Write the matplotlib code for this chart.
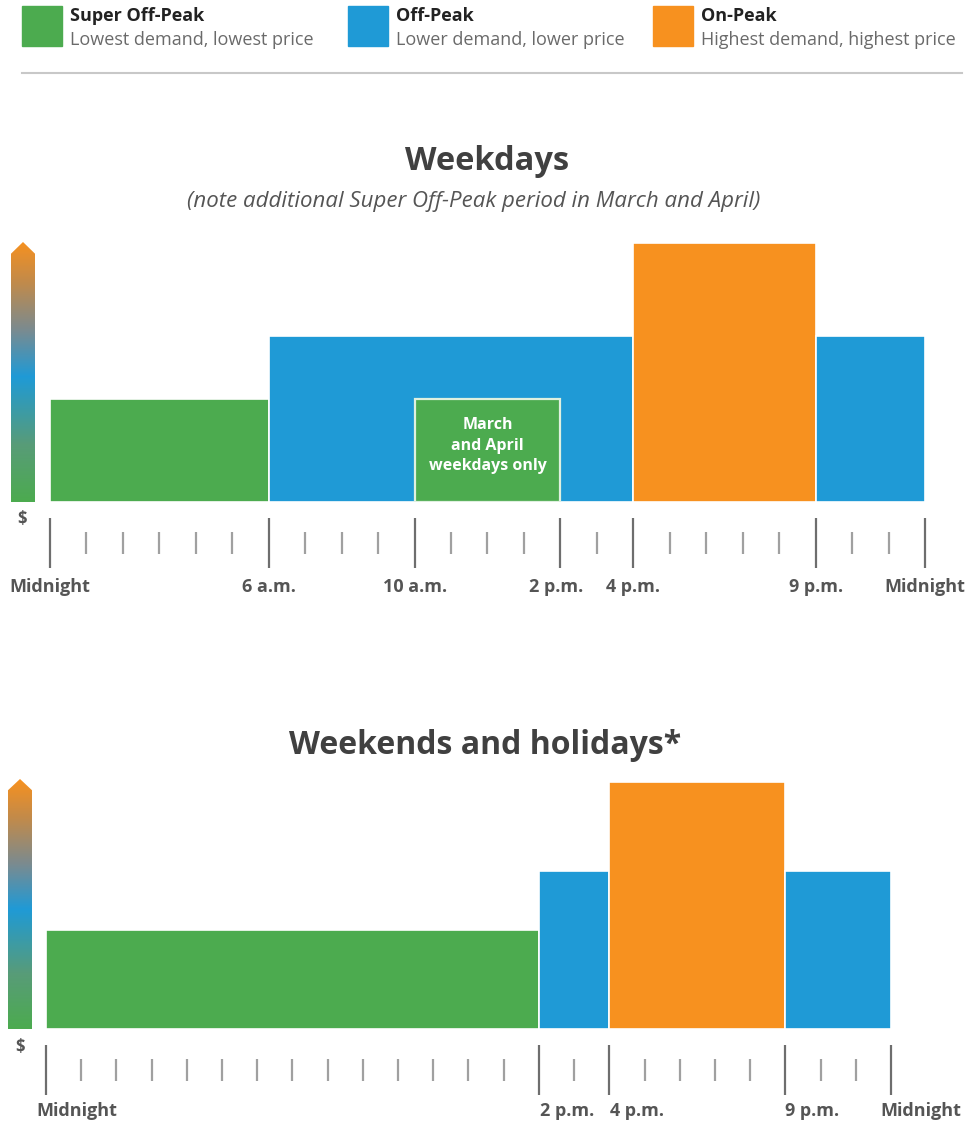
import matplotlib
matplotlib.use("Agg")
import matplotlib.pyplot as plt
import numpy as np
from matplotlib.colors import LinearSegmentedColormap
from matplotlib.patches import Polygon
from matplotlib.lines import Line2D
from matplotlib.patches import Rectangle

plt.rcParams['font.family'] = ['Open Sans', 'DejaVu Sans']

# ---- data -------------------------------------------------------------
period_names = ["Super Off-Peak", "Off-Peak", "On-Peak"]
period_desc = ["Lowest demand, lowest price", "Lower demand, lower price",
               "Highest demand, highest price"]
period_level = {"Super Off-Peak": 1.0, "Off-Peak": 1.6, "On-Peak": 2.5}

weekday_start = [0, 6, 16, 21]
weekday_end = [6, 16, 21, 24]
weekday_period = ["Super Off-Peak", "Off-Peak", "On-Peak", "Off-Peak"]

spring_start = [10]
spring_end = [14]
spring_period = ["Super Off-Peak"]
spring_note = "March\nand April\nweekdays only"

weekend_start = [0, 14, 16, 21]
weekend_end = [14, 16, 21, 24]
weekend_period = ["Super Off-Peak", "Off-Peak", "On-Peak", "Off-Peak"]

weekday_tick_hours = [0, 6, 10, 14, 16, 21, 24]
weekday_tick_labels = ["Midnight", "6 a.m.", "10 a.m.", "2 p.m.", "4 p.m.", "9 p.m.", "Midnight"]
weekend_tick_hours = [0, 14, 16, 21, 24]
weekend_tick_labels = ["Midnight", "2 p.m.", "4 p.m.", "9 p.m.", "Midnight"]

# ---- style ------------------------------------------------------------
COLORS = {"Super Off-Peak": "#4CAB4F", "Off-Peak": "#1F9AD6", "On-Peak": "#F7911F"}
TEXT = "#404040"
SUB = "#6a6a6a"

W, H = 967, 1124
fig = plt.figure(figsize=(W / 100, H / 100), dpi=100)
fig.patch.set_facecolor("white")


def fx(px):
    return px / W


def fy(py):
    return 1 - py / H


def box(x0, y0, x1, y1):
    """figure rect from pixel box (top-left origin)"""
    return [fx(x0), fy(y1), fx(x1) - fx(x0), fy(y0) - fy(y1)]


# ---- legend ------------------------------------------------------------
legend_x = [22, 348, 653]
for x, name, desc in zip(legend_x, period_names, period_desc):
    fig.patches.append(Rectangle((fx(x), fy(46)), fx(40), fy(6) - fy(46),
                                 transform=fig.transFigure, color=COLORS[name]))
    fig.text(fx(x + 48), fy(16), name, fontsize=13, fontweight="bold",
             color="#222222", va="center", ha="left")
    fig.text(fx(x + 48), fy(40), desc, fontsize=13, color=SUB,
             va="center", ha="left")
fig.lines.append(Line2D([fx(22), fx(962)], [fy(73), fy(73)],
                        transform=fig.transFigure, color="#c8c8c8", lw=1.5))

# price scale: green (low) through blue to orange (high), with muted
# transitions between the pure hues
grad_cmap = LinearSegmentedColormap.from_list(
    "price", [(0.0, COLORS["Super Off-Peak"]), (0.22, "#589c78"),
              (0.48, COLORS["Off-Peak"]), (0.66, "#7a8b90"),
              (0.84, "#c08a4c"), (1.0, COLORS["On-Peak"])])


def price_arrow(rect):
    ga = fig.add_axes(rect)
    ga.set_xlim(0, 1)
    ga.set_ylim(0, 1)
    ga.axis("off")
    grad = np.linspace(0, 1, 256).reshape(-1, 1)
    im = ga.imshow(grad, cmap=grad_cmap, extent=[0, 1, 0, 1], origin="lower",
                   aspect="auto")
    shape = Polygon([(0, 0), (1, 0), (1, 0.955), (0.5, 1.0), (0, 0.955)],
                    closed=True, transform=ga.transData, facecolor="none",
                    edgecolor="none")
    ga.add_patch(shape)
    im.set_clip_path(shape)
    return ga


def draw_periods(ax, starts, ends, periods, edge, lw, z):
    ax.bar(starts, [period_level[p] for p in periods],
           width=[e - s for s, e in zip(starts, ends)], align="edge",
           color=[COLORS[p] for p in periods], edgecolor=edge,
           linewidth=lw, zorder=z)


def timeline(rect, starts, ends, periods, tick_hours, tick_labels,
             label_ha, label_dx, label_dy):
    ax = fig.add_axes(rect)
    ax.set_xlim(0, 24)
    ax.set_ylim(0, 2.5)
    for s in ["top", "left", "right"]:
        ax.spines[s].set_visible(False)
    ax.spines["bottom"].set_position(("outward", 29.5))
    ax.spines["bottom"].set_visible(False)
    ax.set_yticks([])
    draw_periods(ax, starts, ends, periods, "white", 1.2, 2)
    ax.set_xticks(tick_hours)
    ax.set_xticks(np.arange(0, 25, 1), minor=True)
    ax.tick_params(axis="x", which="major", direction="inout", length=36,
                   width=1.6, color="#6e6e6e", labelbottom=False)
    ax.tick_params(axis="x", which="minor", direction="inout", length=16.5,
                   width=1.6, color="#a0a0a0")
    for h, lab, dx in zip(tick_hours, tick_labels, label_dx):
        ax.annotate(lab, xy=(h, 0), xytext=(dx, label_dy),
                    textcoords="offset pixels", ha=label_ha, va="center",
                    fontsize=13, fontweight="bold", color="#555555",
                    annotation_clip=False)
    return ax


# ---- weekdays ---------------------------------------------------------
fig.text(fx(487), fy(162), "Weekdays", fontsize=23.5, fontweight="bold",
         color=TEXT, ha="center", va="center")
fig.text(fx(474), fy(202),
         "(note additional Super Off-Peak period in March and April)",
         fontsize=16, style="italic", color="#555555", ha="center", va="center")

price_arrow(box(11, 242, 35, 502))
ax1 = timeline(box(50, 502 - 2.5 * 103.5, 925, 502), weekday_start, weekday_end,
               weekday_period, weekday_tick_hours, weekday_tick_labels,
               "center", [0, 0, 0, -4, 0, 0, 0], -85)
draw_periods(ax1, spring_start, spring_end, spring_period, "#dff0df", 1.6, 3)
for s, e, p in zip(spring_start, spring_end, spring_period):
    ax1.text((s + e) / 2, period_level[p] * 0.545, spring_note, ha="center",
             va="center", color="white", fontsize=11.5, fontweight="bold",
             linespacing=1.4, zorder=4)
fig.text(fx(22), fy(519), "$", fontsize=12, fontweight="bold", color="#555555",
         ha="center", va="center")

# ---- weekends ---------------------------------------------------------
fig.text(fx(485), fy(745), "Weekends and holidays*", fontsize=23,
         fontweight="bold", color=TEXT, ha="center", va="center")

price_arrow(box(8, 779, 32, 1029))
ax2 = timeline(box(46, 1029 - 2.5 * 99, 891, 1029), weekend_start, weekend_end,
               weekend_period, weekend_tick_hours, weekend_tick_labels,
               "left", [-10, 1, 1, 0, -11], -82)
fig.text(fx(20), fy(1047), "$", fontsize=12, fontweight="bold", color="#555555",
         ha="center", va="center")

fig.savefig("out.png", dpi=100, facecolor="white")
